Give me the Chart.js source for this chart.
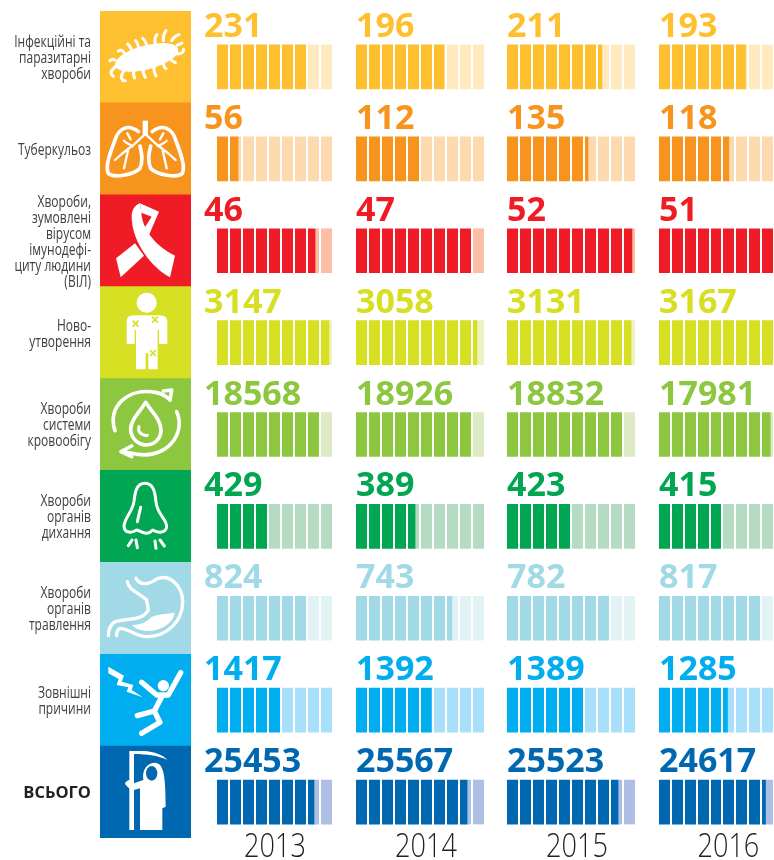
<!DOCTYPE html>
<html lang="uk">
<head>
<meta charset="utf-8">
<title>Причини смерті</title>
<script src="https://cdn.jsdelivr.net/npm/chart.js@4"></script>
<style>
html,body{margin:0;padding:0;background:#fff;width:774px;height:860px;overflow:hidden}
#wrap{position:relative;width:774px;height:860px;overflow:hidden}
canvas{position:absolute;left:0;top:0}
svg{position:absolute;left:0;top:0}
</style>
</head>
<body>
<div id="wrap">
<canvas id="cLabels" width="800" height="860"></canvas>
<canvas id="c2013" width="800" height="860"></canvas>
<canvas id="c2014" width="800" height="860"></canvas>
<canvas id="c2015" width="800" height="860"></canvas>
<canvas id="c2016" width="800" height="860"></canvas>
<svg width="774" height="860" viewBox="0 0 774 860" fill="none" stroke-linecap="round" stroke-linejoin="round">
  <g transform="scale(.33333)">
    <!-- bacterium -->
    <g stroke="#fff" stroke-width="9">
      <ellipse cx="440" cy="172" rx="98" ry="36" transform="rotate(-15 440 172)" fill="#fff" stroke="none"/>
      <path d="M375,165q-5,-20 -20,-12M345,180q-8,-5 -15,2M352,195q-10,8 -18,18q-3,10 6,16M372,212q-8,10 -8,20q3,12 12,10M402,210q-4,14 2,24M430,208q-2,14 6,24M462,198q-2,14 6,30M490,190q2,14 8,16M512,178q6,6 14,10M528,160q8,4 18,-2q6,-4 4,-10M532,135q8,-2 14,-6M515,122q8,-14 22,-18M490,122q-2,-16 8,-30M465,128q-2,-16 6,-24M440,135q-4,-14 -12,-20M415,140q-2,-12 -8,-18M395,150q-4,-12 -12,-18"/>
    </g>
    <!-- lungs -->
    <g stroke="#fff" stroke-width="11">
      <path d="M436,362V405" stroke-width="16" stroke-linecap="butt"/>
      <path d="M415,395C385,370 355,385 345,420C330,460 315,500 325,520C340,535 400,525 420,505C430,480 425,460 420,438"/>
      <path d="M436,402L395,440M398,436L365,462L345,480M385,447L372,505M398,438Q372,425 372,422M382,400L392,418" stroke-width="7"/>
      <g transform="translate(872,0) scale(-1,1)">
        <path d="M415,395C385,370 355,385 345,420C330,460 315,500 325,520C340,535 400,525 420,505C430,480 425,460 420,438"/>
        <path d="M436,402L395,440M398,436L365,462L345,480M385,447L372,505M398,438Q372,425 372,422M382,400L392,418" stroke-width="7"/>
      </g>
    </g>
  </g>
  <g transform="translate(0,190) scale(.33333)">
    <!-- ribbon -->
    <g fill="#fff">
      <path d="M420,40L477,65L447,135L433,115L455,80L424,68Z"/>
      <path d="M420,40L424,68C425,100 450,160 525,197L510,262C450,230 395,150 395,80C395,60 405,45 420,40Z"/>
      <path d="M405,160L432,197L362,262L348,205Z"/>
    </g>
    <!-- person -->
    <circle cx="440" cy="338" r="30" fill="#fff"/>
    <path d="M380,395Q380,376 400,376H480Q502,376 502,395V462H477V420H473V538H445V490H437V538H408V420H404V462H380Z" fill="#fff"/>
    <path d="M398,392l18,18m0,-18l-18,18M456,380l18,18m0,-18l-18,18M450,480l18,18m0,-18l-18,18" stroke="#D7DF23" stroke-width="5" stroke-linecap="butt"/>
    <!-- circulation -->
    <g stroke="#fff" stroke-width="11">
      <path d="M345,722C320,650 385,590 470,608C490,612 500,620 510,630"/>
      <path d="M490,603L515,600L510,630"/>
      <path d="M530,665C560,730 500,815 395,790L365,785"/>
      <path d="M395,768L363,785L395,800"/>
      <path d="M437,637C420,665 390,690 392,722C395,750 420,765 437,765C460,765 482,750 483,722C484,690 455,665 437,637Z"/>
      <path d="M417,710C412,725 425,738 442,736" stroke-width="9"/>
    </g>
  </g>
  <g transform="translate(0,465) scale(.33333)">
    <!-- nose -->
    <g stroke="#fff" stroke-width="9">
      <path d="M435,55C410,55 405,80 402,110C398,140 372,160 372,185C375,205 395,205 410,195C430,200 440,215 458,195C475,205 498,205 500,185C500,160 470,150 467,105C465,75 458,55 435,55Z"/>
      <path d="M422,127L412,170M385,242L396,225M408,225L412,248M465,228L468,250M480,225L493,243"/>
    </g>
    <!-- stomach -->
    <g stroke="#fff" stroke-width="10">
      <path d="M382,350C385,375 420,385 440,405L445,435C430,465 390,460 345,470C330,480 325,495 325,512"/>
      <path d="M408,340C420,362 445,360 470,342C510,325 548,365 548,410C548,470 500,515 440,515C410,515 385,490 360,490C350,495 350,505 350,512"/>
      <path d="M400,482C430,480 445,470 455,458C475,448 500,450 522,445C515,480 470,498 440,496C425,495 410,490 400,482Z" fill="#fff" stroke-width="4"/>
    </g>
    <!-- falling man -->
    <path d="M325,605L372,632L365,650L400,660L395,675L428,697L380,680L385,667L350,660L356,642L325,625Z" fill="#fff"/>
    <circle cx="490" cy="662" r="17" fill="#fff"/>
    <path d="M425,652L470,690H505L542,623M488,690L463,738M463,738L412,752M463,738L480,772L425,805" stroke="#fff" stroke-width="16"/>
  </g>
  <g transform="translate(0,740) scale(.33333)">
    <!-- reaper -->
    <path d="M388,33L430,33C465,35 490,45 502,60C480,48 440,42 402,42V270H388Z" fill="#fff"/>
    <path d="M430,120C425,85 445,68 465,68C490,70 497,100 497,200L487,205V270H420V145L402,150C390,150 375,135 375,128L385,120L402,130Z" fill="#fff"/>
    <ellipse cx="455" cy="100" rx="17" ry="22" fill="#0067B1"/>
  </g>
</svg>
</div>
<script>
// ---- categories and colours ----
const categories = [
  ["Інфекційні та", "паразитарні", "хвороби"],
  ["Туберкульоз"],
  ["Хвороби,", "зумовлені", "вірусом", "імунодефі-", "циту людини", "(ВІЛ)"],
  ["Ново-", "утворення"],
  ["Хвороби", "системи", "кровообігу"],
  ["Хвороби", "органів", "дихання"],
  ["Хвороби", "органів", "травлення"],
  ["Зовнішні", "причини"],
  ["ВСЬОГО"]
];
const years = ["2013", "2014", "2015", "2016"];
const darkColors  = ["#FFC030","#F7941E","#EF1C25","#D7DF23","#8DC63F","#00A651","#A1DAE6","#00AEEF","#0067B1"];
const lightColors = ["#FFE9BF","#FDD9B0","#FBBFA8","#EEF1C3","#DCEBC3","#B5DCC2","#E2F3F6","#A8DFFA","#ADBFE2"];

// ---- printed numbers, one list per year ----
const deaths2013 = [231, 56, 46, 3147, 18568, 429, 824, 1417, 25453];
const deaths2014 = [196, 112, 47, 3058, 18926, 389, 743, 1392, 25567];
const deaths2015 = [211, 135, 52, 3131, 18832, 423, 782, 1389, 25523];
const deaths2016 = [193, 118, 51, 3167, 17981, 415, 817, 1285, 24617];

// ---- filled length of each ten-cell bar ----
const cells2013 = [8.0, 2.69, 8.62, 9.69, 9.0, 5.0, 8.0, 6.0, 8.54];
const cells2014 = [6.85, 4.92, 9.0, 9.38, 9.0, 4.62, 7.46, 5.87, 8.62];
const cells2015 = [7.38, 6.31, 9.69, 9.62, 9.0, 5.0, 8.0, 6.0, 8.62];
const cells2016 = [6.8, 5.5, 9.6, 9.8, 8.72, 5.0, 8.0, 5.4, 8.35];
const cellsTotal = 10;
const firstVisibleCell = [1, 0, 0, 0];

// ---- layout (pixels) ----
const W = 800, H = 860;
const columnLeft = [216, 355, 506, 658];
const cellPitch = [13, 13, 13, 12.875];
const yearNudge = [7, 6, 6, 6];

const fmtFont = (weight, size) => `${weight} ${size}px "Open Sans", "Noto Sans", sans-serif`;

// ---- left panel: labels and colour blocks ----
const blockValues = categories.map(() => 1);
const categoryLabelPlugin = {
  id: 'categoryLabels',
  afterDraw(chart) {
    const { ctx, scales: { y } } = chart;
    const right = chart.chartArea.left - 9;
    const lineHeight = 16;
    categories.forEach((lines, i) => {
      const bold = i === categories.length - 1;
      const cy = y.getPixelForValue(i) + 1.5;
      lines.forEach((line, j) => {
        ctx.save();
        ctx.font = bold ? fmtFont(700, 16.5) : fmtFont(400, 15.5);
        ctx.fillStyle = bold ? '#231f20' : '#404040';
        ctx.textAlign = 'right';
        ctx.textBaseline = 'middle';
        ctx.translate(right, cy + (j - (lines.length - 1) / 2) * lineHeight);
        if (!bold) ctx.scale(0.775, 1);
        ctx.fillText(line, 0, 0);
        ctx.restore();
      });
    });
  }
};
new Chart(document.getElementById('cLabels'), {
  type: 'bar',
  plugins: [categoryLabelPlugin],
  data: {
    labels: categories.map(c => c.join(' ')),
    datasets: [{ data: blockValues, backgroundColor: darkColors, borderWidth: 0,
                 categoryPercentage: 1, barPercentage: 1 }]
  },
  options: {
    indexAxis: 'y', responsive: false, animation: false, devicePixelRatio: 1,
    layout: { padding: { top: 11, bottom: 22, left: 100, right: W - 191 } },
    plugins: { legend: { display: false }, tooltip: { enabled: false } },
    scales: {
      x: { display: false, min: 0, max: 1 },
      y: { display: false }
    }
  }
});

// ---- one chart per year ----
const labelPlugin = {
  id: 'valueLabels',
  afterDraw(chart, args, opts) {
    const { ctx, scales: { x, y } } = chart;
    ctx.save();
    ctx.textBaseline = 'alphabetic';
    ctx.textAlign = 'left';
    ctx.font = fmtFont(700, 34);
    opts.values.forEach((v, i) => {
      ctx.fillStyle = darkColors[i];
      ctx.fillText(String(v), x.getPixelForValue(0) + 1, y.getPixelForValue(i) - 30);
    });
    ctx.restore();
    ctx.save();
    ctx.font = fmtFont(300, 33);
    ctx.fillStyle = '#231f20';
    ctx.textAlign = 'center';
    ctx.textBaseline = 'alphabetic';
    ctx.translate(x.getPixelForValue(5) + opts.nudge, 857);
    ctx.scale(0.82, 1);
    ctx.fillText(opts.year, 0, 0);
    ctx.restore();
  }
};

function yearChart(id, k, filled, printed) {
  const first = firstVisibleCell[k];
  const width = (cellsTotal - first) * cellPitch[k];
  new Chart(document.getElementById(id), {
    type: 'bar',
    plugins: [labelPlugin],
    data: {
      labels: categories.map(c => c.join(' ')),
      datasets: [
        { data: filled, backgroundColor: darkColors, borderWidth: 0, barThickness: 44, stack: 's' },
        { data: filled.map(v => cellsTotal - v), backgroundColor: lightColors, borderWidth: 0, barThickness: 44, stack: 's' }
      ]
    },
    options: {
      indexAxis: 'y', responsive: false, animation: false, devicePixelRatio: 1,
      layout: { padding: { top: 21, bottom: 12, left: columnLeft[k], right: W - columnLeft[k] - width } },
      plugins: { legend: { display: false }, tooltip: { enabled: false },
                 valueLabels: { values: printed, year: years[k], nudge: yearNudge[k] } },
      scales: {
        x: {
          stacked: true, min: first, max: cellsTotal,
          grid: { color: '#fff', lineWidth: 2, z: 1, drawTicks: false },
          border: { display: false },
          ticks: { display: false, stepSize: 1 }
        },
        y: { stacked: true, display: false }
      }
    }
  });
}
yearChart('c2013', 0, cells2013, deaths2013);
yearChart('c2014', 1, cells2014, deaths2014);
yearChart('c2015', 2, cells2015, deaths2015);
yearChart('c2016', 3, cells2016, deaths2016);
</script>
</body>
</html>
